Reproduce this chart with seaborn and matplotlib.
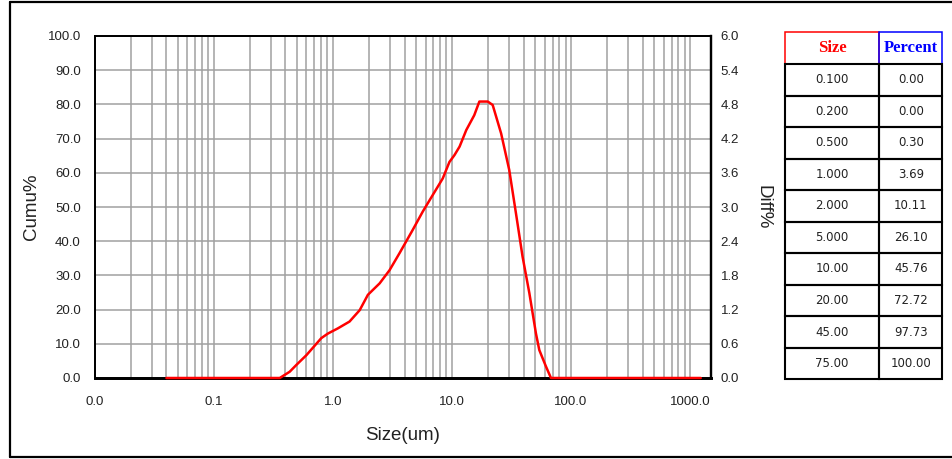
import numpy as np
import pandas as pd
import seaborn as sns
import matplotlib.pyplot as plt
from matplotlib.patches import Rectangle
from matplotlib.lines import Line2D
from matplotlib.ticker import FixedLocator, FixedFormatter, NullFormatter

# differential distribution
size_um = [0.04, 0.358, 0.434, 0.494, 0.599, 0.800, 0.909, 1.10, 1.38, 1.68,
           1.97, 2.47, 2.99, 3.63, 4.69, 5.69, 6.90, 8.37, 9.53, 10.5,
           11.6, 13.2, 15.4, 17.0, 20.0, 22.0, 25.9, 30.3, 34.5, 39.2,
           44.7, 50.8, 54.2, 61.7, 67.9, 1230.0]
diff_pct = [0.0, 0.0, 0.11, 0.23, 0.40, 0.70, 0.78, 0.87, 0.99, 1.19,
            1.46, 1.66, 1.89, 2.19, 2.60, 2.92, 3.21, 3.50, 3.79, 3.91,
            4.06, 4.35, 4.61, 4.85, 4.85, 4.79, 4.29, 3.65, 2.89, 2.13,
            1.49, 0.78, 0.49, 0.20, 0.0, 0.0]

x_major = [0.01, 0.1, 1, 10, 100, 1000]
x_labels = ["0.0", "0.1", "1.0", "10.0", "100.0", "1000.0"]
cumu_ticks = np.arange(0, 101, 10)
diff_ticks = np.arange(0, 6.01, 0.6)

table_size = ["0.100", "0.200", "0.500", "1.000", "2.000",
              "5.000", "10.00", "20.00", "45.00", "75.00"]
table_percent = ["0.00", "0.00", "0.30", "3.69", "10.11",
                 "26.10", "45.76", "72.72", "97.73", "100.00"]

df = pd.DataFrame({"size": size_um, "diff": diff_pct})

sns.set_style("white")
plt.rcParams["font.family"] = ["Liberation Sans", "DejaVu Sans"]

W, H = 952, 459
fig = plt.figure(figsize=(W / 100, H / 100), dpi=100)

left, right, top, bottom = 94.75, 711, 36, 378
ax = fig.add_axes([left / W, 1 - bottom / H, (right - left) / W, (bottom - top) / H])
ax.set_xscale("log")
ax.set_xlim(0.01, 1500)
ax.set_ylim(0, 100)
ax.xaxis.set_major_locator(FixedLocator(x_major))
ax.xaxis.set_major_formatter(FixedFormatter(x_labels))
minor = [m * d for d in [0.01, 0.1, 1, 10, 100, 1000] for m in range(2, 10)]
ax.xaxis.set_minor_locator(FixedLocator(minor))
ax.xaxis.set_minor_formatter(NullFormatter())
ax.set_yticks(cumu_ticks)
ax.set_yticklabels([f"{v:.1f}" for v in cumu_ticks])
ax.grid(True, which="both", axis="x", color="#a0a0a0", lw=1.1)
ax.grid(True, which="major", axis="y", color="#a0a0a0", lw=1.1)
ax.tick_params(which="both", length=0, labelsize=9.5, colors="#222222")
ax.tick_params(axis="x", pad=13)
ax.tick_params(axis="y", pad=10)
ax.set_xlabel("Size(um)", fontsize=13.5, color="#222222")
ax.xaxis.set_label_coords(0.5, -0.142)
ax.set_ylabel("Cumu%", fontsize=13.5, color="#222222")
ax.yaxis.set_label_coords(-0.089, 0.5)

ax2 = ax.twinx()
ax2.set_ylim(0, 6)
ax2.set_yticks(diff_ticks)
ax2.set_yticklabels([f"{v:.1f}" for v in diff_ticks])
ax2.tick_params(length=0, labelsize=9.5, colors="#222222", pad=7)
ax2.set_ylabel("Diff%", fontsize=13.5, rotation=270, color="#222222", va="center")
ax2.yaxis.set_label_coords(1.085, 0.5)

sns.lineplot(data=df, x="size", y="diff", ax=ax2, color="#ff0000", lw=1.8,
             sort=False, estimator=None, clip_on=False, zorder=5)
ax2.set_xlabel("")

for a in (ax, ax2):
    for s in a.spines.values():
        s.set_color("black")
        s.set_linewidth(1.3)
    a.spines["bottom"].set_linewidth(2)
    a.spines["right"].set_linewidth(1.6)

# outer frame
for xs, ys in [([10, 10], [2, 457]), ([10, 952], [2, 2]), ([10, 952], [457, 457])]:
    fig.add_artist(Line2D([x / W for x in xs], [1 - y / H for y in ys],
                          color="black", lw=1.6, transform=fig.transFigure))

# table on the right
col_x = [785, 879.3, 942.3]
row_top = 32.5
row_h = (379.3 - row_top) / 11


def box(x0, x1, y0, y1, color, lw):
    fig.add_artist(Rectangle((x0 / W, 1 - y1 / H), (x1 - x0) / W, (y1 - y0) / H,
                             fill=False, edgecolor=color, lw=lw,
                             transform=fig.transFigure))


box(col_x[0], col_x[1], row_top, row_top + row_h, "#ff0000", 1.1)
box(col_x[1], col_x[2], row_top, row_top + row_h, "#0000ff", 1.1)
yc = row_top + row_h / 2
fig.text((col_x[0] + col_x[1]) / 2 / W, 1 - yc / H, "Size", color="#ff0000",
         family="Liberation Serif", weight="bold", fontsize=12, ha="center", va="center")
fig.text((col_x[1] + col_x[2]) / 2 / W, 1 - yc / H, "Percent", color="#0000ff",
         family="Liberation Serif", weight="bold", fontsize=12, ha="center", va="center")

for i, (s, p) in enumerate(zip(table_size, table_percent)):
    y0 = row_top + row_h * (i + 1)
    y1 = y0 + row_h
    box(col_x[0], col_x[1], y0, y1, "black", 1.5)
    box(col_x[1], col_x[2], y0, y1, "black", 1.5)
    yc = (y0 + y1) / 2
    fig.text((col_x[0] + col_x[1]) / 2 / W, 1 - yc / H, s, fontsize=8.5,
             family="DejaVu Sans", color="#222222", ha="center", va="center")
    fig.text((col_x[1] + col_x[2]) / 2 / W, 1 - yc / H, p, fontsize=8.5,
             family="DejaVu Sans", color="#222222", ha="center", va="center")

fig.savefig("out.png", dpi=100)
